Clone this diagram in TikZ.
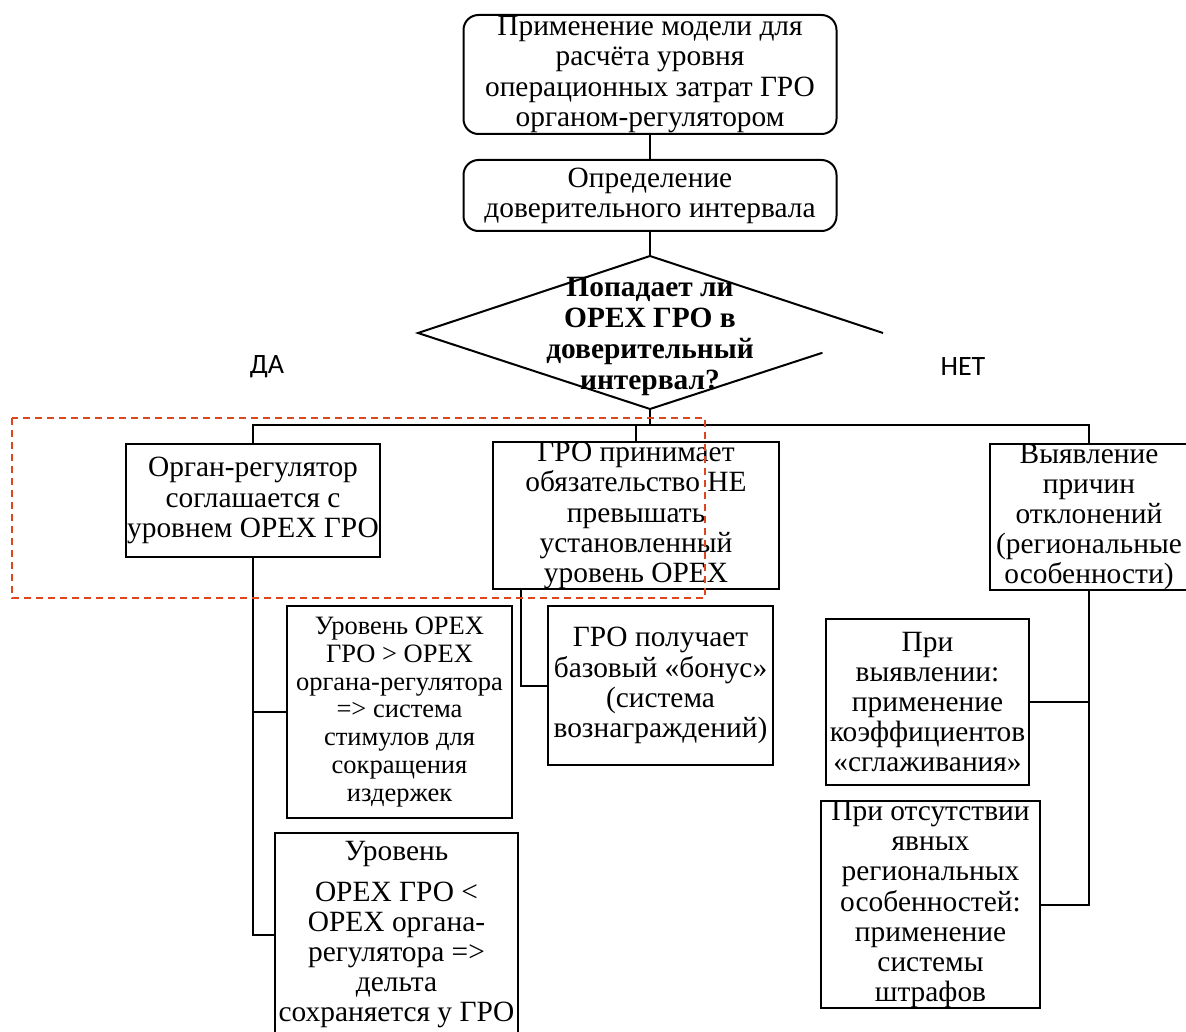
\documentclass[tikz,border=0pt]{standalone}
\usepackage{fontspec}
\setmainfont{Liberation Serif}
\newfontfamily\labelfont{Carlito}
\usetikzlibrary{calc}
\definecolor{hlred}{RGB}{222,70,30}

\begin{document}
\begin{tikzpicture}[x=1pt,y=-1pt,
  box/.style={draw, line width=2pt, align=center, inner sep=0pt, font=\fontsize{29.4}{30.2}\selectfont},
  rbox/.style={box, rounded corners=15pt},
  qtext/.style={align=center, inner sep=0pt, font=\fontsize{29.4}{31}\selectfont\bfseries},
  answer/.style={font=\labelfont\fontsize{28}{30}\selectfont},
  link/.style={draw, line width=2pt}]
\useasboundingbox (0,0) rectangle (1186,1032);

\node[rbox, minimum width=373, minimum height=119] (model) at (650,74.5) {Применение модели для\\расчёта уровня\\операционных затрат ГРО\\органом-регулятором};
\node[rbox, minimum width=373, minimum height=71] (interval) at (650,195.5) {Определение\\доверительного интервала};

\node[qtext] (q) at (650,337) {Попадает ли\\OPEX ГРО в\\доверительный\\интервал?};
\coordinate (qN) at (650,256);
\coordinate (qW) at (418,333);
\coordinate (qS) at (650,409);
\coordinate (qE) at (883,333);
\coordinate (bus) at (650,425);

\node[answer] (yes) at (267,367) {ДА};
\node[answer] (no) at (963,367) {НЕТ};

\node[box, minimum width=254, minimum height=113] (agree) at (253,500.5) {Орган-регулятор\\соглашается с\\уровнем OPEX ГРО};
\node[box, minimum width=286, minimum height=143] (commit) at (636,515.5) {ГРО принимает\\обязательство НЕ\\превышать\\установленный\\уровень OPEX};
\node[box, minimum width=198, minimum height=146] (reasons) at (1089,517) {Выявление\\причин\\отклонений\\(региональные\\особенности)};

\node[box, minimum width=225, minimum height=212, font=\fontsize{26.5}{27.7}\selectfont] (higher) at (399.5,712) {Уровень OPEX\\ГРО > OPEX\\органа-регулятора\\=> система\\стимулов для\\сокращения\\издержек};
\node[box, minimum width=243, minimum height=204] (lower) at (396.5,935) {Уровень\\[10pt]OPEX ГРО <\\OPEX органа-\\регулятора =>\\дельта\\сохраняется у ГРО};
\node[box, minimum width=225, minimum height=159] (bonus) at (660.5,685.5) {ГРО получает\\базовый «бонус»\\(система\\вознаграждений)};
\node[box, minimum width=203, minimum height=166] (smooth) at (927.5,702) {При\\выявлении:\\применение\\коэффициентов\\«сглаживания»};
\node[box, minimum width=219, minimum height=207] (penalty) at (930.5,904.5) {При отсутствии\\явных\\региональных\\особенностей:\\применение\\системы\\штрафов};

% decision outline, lower right edge is broken off
\path[link] (qE) -- (qN) -- (qW) -- (qS) -- ($(qS)!0.74!(qE)$);

\path[link] (model) -- (interval);
\path[link] (interval) -- (qN);
\path[link] (qS) -- (bus);
\path[link] (agree.north) |- (bus) -| (reasons.north);
\path[link] (commit.north) -- (commit.north |- bus);

\path[link] (agree.south) |- (higher.west);
\path[link] (agree.south) |- (lower.west);
\coordinate (cdrop) at ($(commit.south west)!0.1!(commit.south east)$);
\path[link] (cdrop) |- (bonus.west);
\path[link] (reasons.south) |- (smooth.east);
\path[link] (reasons.south) |- (penalty.east);

\draw[hlred, line width=1.5pt, dash pattern=on 7pt off 5pt] (12,418) rectangle (705,598);
\end{tikzpicture}
\end{document}
